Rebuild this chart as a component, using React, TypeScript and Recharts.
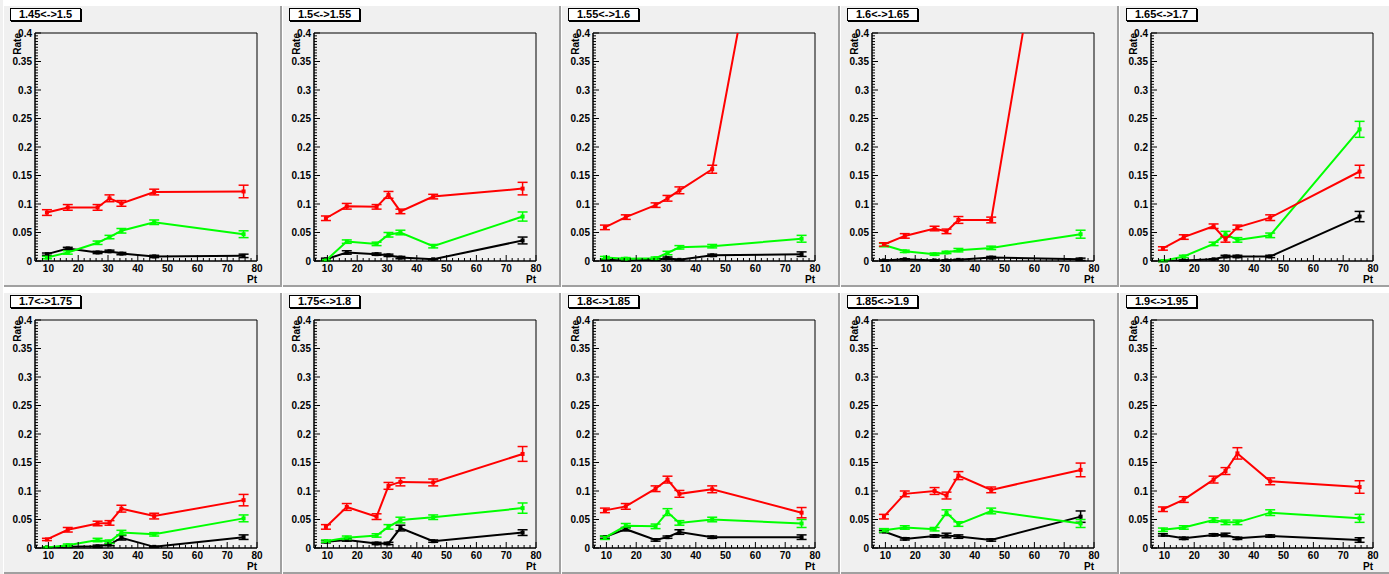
import { LineChart, Line, XAxis, YAxis, ErrorBar, ReferenceArea, Label } from 'recharts';

const pt = [9.5, 16.5, 26.5, 30.5, 34.5, 45.5, 75.5];

const titles = [
    '1.45<->1.5', '1.5<->1.55', '1.55<->1.6', '1.6<->1.65', '1.65<->1.7',
    '1.7<->1.75', '1.75<->1.8', '1.8<->1.85', '1.85<->1.9', '1.9<->1.95',
];

const red = [
    [0.085, 0.094, 0.094, 0.110, 0.101, 0.121, 0.122],
    [0.075, 0.096, 0.095, 0.116, 0.087, 0.113, 0.127],
    [0.059, 0.077, 0.098, 0.110, 0.124, 0.161, 1.0],
    [0.029, 0.044, 0.057, 0.052, 0.072, 0.072, 1.0],
    [0.022, 0.042, 0.061, 0.038, 0.059, 0.076, 0.157],
    [0.015, 0.032, 0.043, 0.044, 0.069, 0.056, 0.084],
    [0.037, 0.072, 0.055, 0.109, 0.116, 0.115, 0.165],
    [0.066, 0.073, 0.104, 0.120, 0.095, 0.103, 0.062],
    [0.055, 0.095, 0.100, 0.092, 0.127, 0.102, 0.137],
    [0.068, 0.085, 0.120, 0.135, 0.166, 0.117, 0.107],
];
const redErr = [
    [0.005, 0.005, 0.005, 0.006, 0.005, 0.005, 0.011],
    [0.004, 0.005, 0.004, 0.006, 0.004, 0.004, 0.011],
    [0.004, 0.004, 0.004, 0.005, 0.006, 0.007, 0],
    [0.003, 0.004, 0.004, 0.004, 0.006, 0.005, 0],
    [0.003, 0.004, 0.004, 0.005, 0.004, 0.005, 0.011],
    [0.002, 0.004, 0.004, 0.004, 0.006, 0.005, 0.010],
    [0.004, 0.006, 0.005, 0.006, 0.007, 0.006, 0.013],
    [0.004, 0.005, 0.005, 0.006, 0.006, 0.006, 0.009],
    [0.004, 0.005, 0.006, 0.006, 0.007, 0.005, 0.012],
    [0.004, 0.005, 0.006, 0.006, 0.010, 0.006, 0.011],
];

const green = [
    [0.006, 0.015, 0.032, 0.042, 0.053, 0.068, 0.047],
    [0.001, 0.034, 0.030, 0.046, 0.050, 0.026, 0.078],
    [0.006, 0.004, 0.005, 0.014, 0.024, 0.026, 0.039],
    [0.028, 0.017, 0.012, 0.015, 0.019, 0.023, 0.047],
    [0.000, 0.008, 0.030, 0.047, 0.037, 0.045, 0.231],
    [0.001, 0.005, 0.014, 0.011, 0.027, 0.024, 0.052],
    [0.012, 0.018, 0.022, 0.037, 0.049, 0.054, 0.070],
    [0.018, 0.039, 0.038, 0.063, 0.044, 0.050, 0.043],
    [0.031, 0.036, 0.033, 0.062, 0.042, 0.065, 0.043],
    [0.032, 0.036, 0.049, 0.045, 0.045, 0.062, 0.052],
];
const greenErr = [
    [0.002, 0.003, 0.003, 0.003, 0.004, 0.004, 0.006],
    [0.001, 0.003, 0.003, 0.004, 0.004, 0.003, 0.008],
    [0.002, 0.002, 0.002, 0.003, 0.003, 0.003, 0.006],
    [0.003, 0.002, 0.002, 0.002, 0.003, 0.003, 0.007],
    [0.001, 0.002, 0.003, 0.005, 0.004, 0.004, 0.014],
    [0.001, 0.002, 0.003, 0.003, 0.004, 0.003, 0.006],
    [0.002, 0.003, 0.003, 0.004, 0.005, 0.004, 0.009],
    [0.003, 0.004, 0.004, 0.006, 0.004, 0.004, 0.007],
    [0.003, 0.003, 0.003, 0.005, 0.004, 0.005, 0.007],
    [0.003, 0.003, 0.004, 0.004, 0.004, 0.005, 0.007],
];

const black = [
    [0.012, 0.022, 0.015, 0.017, 0.013, 0.008, 0.009],
    [0.003, 0.015, 0.012, 0.010, 0.006, 0.003, 0.036],
    [0.002, 0.001, 0.002, 0.005, 0.002, 0.010, 0.012],
    [0.001, 0.003, 0.001, 0.001, 0.002, 0.006, 0.003],
    [0.000, 0.001, 0.003, 0.008, 0.008, 0.008, 0.078],
    [0.001, 0.002, 0.003, 0.006, 0.018, 0.002, 0.019],
    [0.011, 0.014, 0.008, 0.008, 0.035, 0.012, 0.027],
    [0.019, 0.033, 0.014, 0.019, 0.028, 0.019, 0.019],
    [0.029, 0.016, 0.021, 0.022, 0.020, 0.014, 0.055],
    [0.023, 0.017, 0.023, 0.023, 0.017, 0.021, 0.014],
];
const blackErr = [
    [0.002, 0.002, 0.002, 0.002, 0.002, 0.002, 0.003],
    [0.002, 0.003, 0.002, 0.002, 0.002, 0.001, 0.006],
    [0.001, 0.001, 0.001, 0.002, 0.001, 0.002, 0.004],
    [0.001, 0.001, 0.001, 0.001, 0.001, 0.002, 0.002],
    [0.001, 0.001, 0.001, 0.002, 0.002, 0.002, 0.009],
    [0.001, 0.001, 0.002, 0.002, 0.004, 0.001, 0.004],
    [0.002, 0.002, 0.002, 0.002, 0.005, 0.002, 0.005],
    [0.002, 0.003, 0.002, 0.002, 0.004, 0.002, 0.004],
    [0.002, 0.002, 0.002, 0.004, 0.003, 0.002, 0.010],
    [0.002, 0.002, 0.002, 0.003, 0.002, 0.002, 0.004],
];

const xDomain = [5.5, 80];
const yDomain = [0, 0.4];

// ROOT style ticks: majors labelled, minors in between, drawn inside the frame
const xTicks = Array.from({ length: 38 }, (_, k) => 6 + k * 2);
const yTicks = Array.from({ length: 81 }, (_, k) => +(k * 0.005).toFixed(3));

const PAD_W = 279;
const PAD_H = 287;
const FONT = '"Liberation Sans", Arial, sans-serif';
const TICK_FS = 10;

const isMajorX = (v: number) => v % 10 === 0;
const isMajorY = (v: number) => Math.abs(v / 0.05 - Math.round(v / 0.05)) < 1e-6;

function XTick(props: any) {
    const { x, y, payload } = props;
    const major = isMajorX(payload.value);
    return (
        <g>
            <line x1={x} y1={y} x2={x} y2={y - (major ? 6 : 3)} stroke="#000" />
            {major && (
                <text x={x} y={y + 11} textAnchor="middle" fontSize={TICK_FS} fontWeight="bold" fontFamily={FONT} fill="#000">
                    {payload.value}
                </text>
            )}
        </g>
    );
}

function YTick(props: any) {
    const { x, y, payload } = props;
    const major = isMajorY(payload.value);
    return (
        <g>
            <line x1={x} y1={y} x2={x + (major ? 6 : 3)} y2={y} stroke="#000" />
            {major && (
                <text x={x - 3} y={y + 3.5} textAnchor="end" fontSize={TICK_FS} fontWeight="bold" fontFamily={FONT} fill="#000">
                    {payload.value === 0 ? '0' : String(payload.value)}
                </text>
            )}
        </g>
    );
}

const squareDot = (color: string) => (p: any) => (
    <rect key={`d${p.index}`} x={p.cx - 2} y={p.cy - 2} width={4} height={4} fill={color} />
);

function Panel({ idx }: { idx: number }) {
    const rows = pt.map((x, j) => ({
        pt: x,
        red: red[idx][j], redErr: redErr[idx][j],
        green: green[idx][j], greenErr: greenErr[idx][j],
        black: black[idx][j], blackErr: blackErr[idx][j],
    }));
    const col = idx % 5;
    const row = Math.floor(idx / 5);
    return (
        <div
            style={{
                position: 'absolute',
                left: 3 + col * PAD_W,
                top: row * PAD_H,
                width: PAD_W,
                height: PAD_H,
                background: '#f0f0f0',
                boxShadow: 'inset 1px 6px 0 #ffffff, inset -2px -2px 0 #a0a0a0',
            }}
        >
            <LineChart width={PAD_W} height={PAD_H} data={rows} margin={{ top: 33, right: 25, bottom: 0, left: 0 }}>
                <XAxis
                    dataKey="pt" type="number" domain={xDomain} allowDataOverflow
                    ticks={xTicks} interval={0} tick={<XTick />} tickSize={0} tickMargin={0}
                    tickLine={false} height={26} axisLine={{ stroke: '#000' }}
                >
                    <Label
                        content={({ viewBox }: any) => (
                            <text x={viewBox.x + viewBox.width} y={viewBox.y + 22} textAnchor="end"
                                fontSize={TICK_FS} fontWeight="bold" fontFamily={FONT} fill="#000">Pt</text>
                        )}
                    />
                </XAxis>
                <YAxis
                    type="number" domain={yDomain} allowDataOverflow
                    ticks={yTicks} interval={0} tick={<YTick />} tickSize={0} tickMargin={0}
                    tickLine={false} width={32} axisLine={{ stroke: '#000' }}
                >
                    <Label
                        content={({ viewBox }: any) => (
                            <text x={18} y={viewBox.y} textAnchor="end" transform={`rotate(-90 18 ${viewBox.y})`}
                                fontSize={TICK_FS} fontWeight="bold" fontFamily={FONT} fill="#000">Rate</text>
                        )}
                    />
                </YAxis>
                <ReferenceArea x1={xDomain[0]} x2={xDomain[1]} y1={yDomain[0]} y2={yDomain[1]} fill="none" stroke="#000" />
                <Line dataKey="black" stroke="#000000" strokeWidth={2} dot={squareDot('#000000')} activeDot={false} isAnimationActive={false}>
                    <ErrorBar dataKey="blackErr" direction="y" width={5} stroke="#000000" strokeWidth={1.5} />
                </Line>
                <Line dataKey="green" stroke="#00ff00" strokeWidth={2} dot={squareDot('#00ff00')} activeDot={false} isAnimationActive={false}>
                    <ErrorBar dataKey="greenErr" direction="y" width={5} stroke="#00ff00" strokeWidth={1.5} />
                </Line>
                <Line dataKey="red" stroke="#ff0000" strokeWidth={2} dot={squareDot('#ff0000')} activeDot={false} isAnimationActive={false}>
                    <ErrorBar dataKey="redErr" direction="y" width={5} stroke="#ff0000" strokeWidth={1.5} />
                </Line>
            </LineChart>
            <div
                style={{
                    position: 'absolute', left: 7, top: 8, width: 69, height: 11,
                    background: '#ffffff', border: '1px solid #000', boxShadow: '1px 1px 0 #000',
                    fontFamily: FONT, fontWeight: 'bold', fontSize: 11, lineHeight: '11px',
                    textAlign: 'center', color: '#000',
                }}
            >
                {titles[idx]}
            </div>
        </div>
    );
}

export default function App() {
    return (
        <div
            style={{
                position: 'fixed', left: 0, top: 0, width: 1389, height: 574,
                overflow: 'hidden', background: '#f0f0f0',
            }}
        >
            {titles.map((t, i) => <Panel key={t} idx={i} />)}
        </div>
    );
}
